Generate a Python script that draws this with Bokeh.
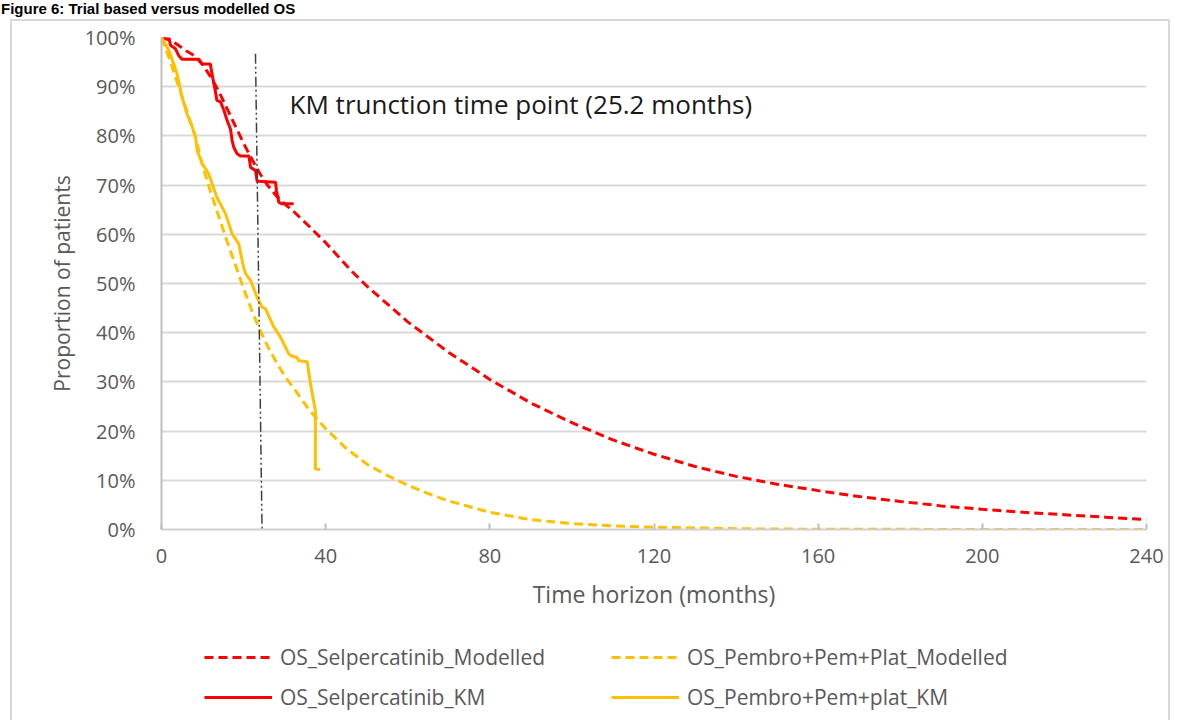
from bokeh.plotting import figure
from bokeh.layouts import column
from bokeh.models import Range1d, FixedTicker, Legend, LegendItem, Label, Div
from bokeh.embed import file_html
from bokeh.resources import INLINE

# ---------------- data (months, % of patients) ----------------
sel_mod_t = [0, 2, 4, 6, 8, 10, 12, 14, 16, 18, 20, 22, 24, 26, 28, 30, 32, 34, 36, 40, 46, 50,
             60, 70, 80, 90, 100, 110, 120, 130, 140, 150, 160, 170, 180, 190, 200, 210, 220, 230, 240]
sel_mod_s = [100, 99.5, 98.5, 97.3, 96.3, 94.5, 92, 89, 85.5, 82, 78.5, 75.3, 72.3, 69.8, 67.8, 66.2, 64.8, 63.2, 61.6, 58.3, 52.8, 49.5,
             42.2, 36, 30.5, 25.7, 21.7, 18.2, 15.3, 12.8, 10.8, 9.2, 7.9, 6.7, 5.7, 4.8, 4.1, 3.5, 3.0, 2.5, 2.0]

pem_mod_t = [0, 2, 4, 6, 8, 10, 12, 14, 16, 18, 20, 22, 24, 26, 28, 30, 33, 36, 40, 45, 50, 55,
             60, 65, 70, 80, 90, 100, 110, 120, 140, 160, 200, 240]
pem_mod_s = [100, 95.5, 90.5, 85.5, 80.5, 74, 68.5, 63.5, 58.5, 53.8, 49, 44.5, 40.5, 37, 34, 31.2, 27.8, 24.3, 20.5, 16.5, 13.3, 11,
             9.0, 7.3, 5.8, 3.5, 2.0, 1.2, 0.75, 0.45, 0.15, 0.05, 0.01, 0]

sel_km_t = [0, 1.8, 2.2, 3.4, 4.2, 5.0, 9.1, 9.9, 11.9, 12.3, 13.1, 13.5, 14.4, 15.2, 16.0, 16.8, 17.2, 17.6, 18.4,
            19.2, 21.3, 21.7, 22.9, 23.3, 27.8, 28.0, 28.6, 29.4, 32.2]
sel_km_s = [100, 100, 98.4, 97.7, 96.3, 95.6, 95.6, 94.6, 94.6, 92.6, 89.2, 87.2, 86.9, 85.2, 83.1, 81.4, 79.1, 77.7, 76.4,
            75.9, 75.9, 73.6, 73.0, 70.8, 70.6, 68.9, 66.5, 66.2, 66.2]

pem_km_t = [0, 1.8, 3.0, 3.8, 5.0, 6.2, 7.5, 8.3, 8.7, 9.9, 11.5, 13.5, 15.6, 17.2, 18.8, 20.0, 20.5, 21.7, 23.3,
            24.5, 25.3, 27.4, 29.0, 31.0, 31.8, 33.0, 33.4, 35.5, 36.3, 37.5, 37.5, 38.7]
pem_km_s = [100, 97.4, 94.6, 92.6, 87.9, 84.5, 81.8, 79.7, 77, 74.4, 72.3, 67.5, 64.2, 60.1, 58.1, 53.3, 52, 50.6, 47.2,
            45.2, 44.9, 41.1, 39.1, 35.7, 35.2, 35.0, 34.3, 34.1, 29.6, 24.2, 12.3, 12.2]

trunc_t = [22.9, 24.5]
trunc_s = [96.7, 0]

x_ticks = [0, 40, 80, 120, 160, 200, 240]
y_ticks = [0, 10, 20, 30, 40, 50, 60, 70, 80, 90, 100]
y_tick_labels = ["0%", "10%", "20%", "30%", "40%", "50%", "60%", "70%", "80%", "90%", "100%"]

names = ["OS_Selpercatinib_Modelled", "OS_Pembro+Pem+Plat_Modelled",
         "OS_Selpercatinib_KM", "OS_Pembro+Pem+plat_KM"]
title_text = "Figure 6: Trial based versus modelled OS"
km_note = "KM trunction time point (25.2 months)"

# ---------------- styling ----------------
FONT = "Open Sans"
RED = "#FF0000"
YEL = "#FFC000"
TXT = "#595959"
BOX = "#d9d9d9"

title_div = Div(text=title_text, width=1182, height=17, margin=0,
                styles={"font-family": "Liberation Sans, Arial, sans-serif", "font-size": "15px",
                        "font-weight": "bold", "color": "#000000", "line-height": "17px",
                        "padding-left": "1px"})

p = figure(width=1182, height=596, output_backend="svg", toolbar_location=None,
           x_range=Range1d(0, 240), y_range=Range1d(0, 100),
           min_border_left=161, min_border_right=36, min_border_top=20, min_border_bottom=84)
p.outline_line_color = None
p.background_fill_color = "white"
p.border_fill_alpha = 0

p.xgrid.grid_line_color = None
p.ygrid.ticker = FixedTicker(ticks=y_ticks)
p.ygrid.grid_line_color = "#d9d9d9"
p.ygrid.grid_line_width = 2

p.yaxis.ticker = FixedTicker(ticks=y_ticks)
p.yaxis.major_label_overrides = {t: l for t, l in zip(y_ticks, y_tick_labels)}
p.yaxis.major_tick_line_color = None
p.yaxis.minor_tick_line_color = None
p.yaxis.axis_line_color = "#bfbfbf"
p.yaxis.axis_line_width = 2
p.yaxis.major_label_standoff = 20
p.yaxis.major_label_text_font = FONT
p.yaxis.major_label_text_font_size = "20px"
p.yaxis.major_label_text_color = TXT
p.yaxis.axis_label = "Proportion of patients"
p.yaxis.axis_label_text_font = FONT
p.yaxis.axis_label_text_font_size = "21px"
p.yaxis.axis_label_text_font_style = "normal"
p.yaxis.axis_label_text_color = TXT
p.yaxis.axis_label_standoff = 6

p.xaxis.ticker = FixedTicker(ticks=x_ticks)
p.xaxis.major_tick_in = 6
p.xaxis.major_tick_out = 0
p.xaxis.major_tick_line_color = "#bfbfbf"
p.xaxis.major_tick_line_width = 2
p.xaxis.minor_tick_line_color = None
p.xaxis.axis_line_color = "#d0d0d0"
p.xaxis.axis_line_width = 2
p.xaxis.major_label_standoff = 19
p.xaxis.major_label_text_font = FONT
p.xaxis.major_label_text_font_size = "20px"
p.xaxis.major_label_text_color = TXT
p.xaxis.axis_label = "Time horizon (months)"
p.xaxis.axis_label_text_font = FONT
p.xaxis.axis_label_text_font_size = "23px"
p.xaxis.axis_label_text_font_style = "normal"
p.xaxis.axis_label_text_color = TXT
p.xaxis.axis_label_standoff = 12

line_specs = [
    (sel_mod_t, sel_mod_s, RED, "9 5"),
    (pem_mod_t, pem_mod_s, YEL, "9 5"),
    (sel_km_t, sel_km_s, RED, "solid"),
    (pem_km_t, pem_km_s, YEL, "solid"),
]
for t, s, c, d in line_specs:
    p.line(t, s, line_color=c, line_width=3, line_dash=d)
p.line(trunc_t, trunc_s, line_color="#404040", line_width=1.5, line_dash="10 3 2 3 2 3")

p.add_layout(Label(x=31.2, y=86.4, text=km_note, text_font=FONT, text_font_size="26px",
                   text_color="#1a1a1a", text_baseline="middle"))

# ---------------- legend strip (its own small plot, same series) ----------------
leg = figure(width=1182, height=107, output_backend="svg", toolbar_location=None,
             x_range=Range1d(1000, 1001), y_range=Range1d(1000, 1001),
             x_axis_type=None, y_axis_type=None,
             min_border_left=0, min_border_right=0, min_border_top=0, min_border_bottom=0)
leg.outline_line_color = None
leg.grid.visible = False
leg.border_fill_alpha = 0
leg.background_fill_alpha = 0
lr = [leg.line(t, s, line_color=c, line_width=3, line_dash=d) for t, s, c, d in line_specs]

common = dict(border_line_color=None, background_fill_alpha=0, padding=0, margin=0,
              glyph_height=20, glyph_width=68, label_height=20, spacing=12, label_standoff=8,
              label_text_font=FONT, label_text_font_size="21px", label_text_color=TXT,
              label_text_baseline="middle")
leg.add_layout(Legend(items=[LegendItem(label=names[0], renderers=[lr[0]]),
                             LegendItem(label=names[2], renderers=[lr[2]])],
                      location=(43, 9), **common))
leg.add_layout(Legend(items=[LegendItem(label=names[1], renderers=[lr[1]]),
                             LegendItem(label=names[3], renderers=[lr[3]])],
                      location=(450, 9), **common))

g = f"linear-gradient({BOX}, {BOX})"
layout = column(title_div, p, leg, spacing=0, styles={
    "background": (f"{g} 10px 19px / 2px 720px no-repeat, "
                   f"{g} 10px 19px / 1160px 2px no-repeat, "
                   f"{g} 1168px 19px / 2px 720px no-repeat, #ffffff")
})

open("out.html", "w").write(file_html(layout, INLINE))
